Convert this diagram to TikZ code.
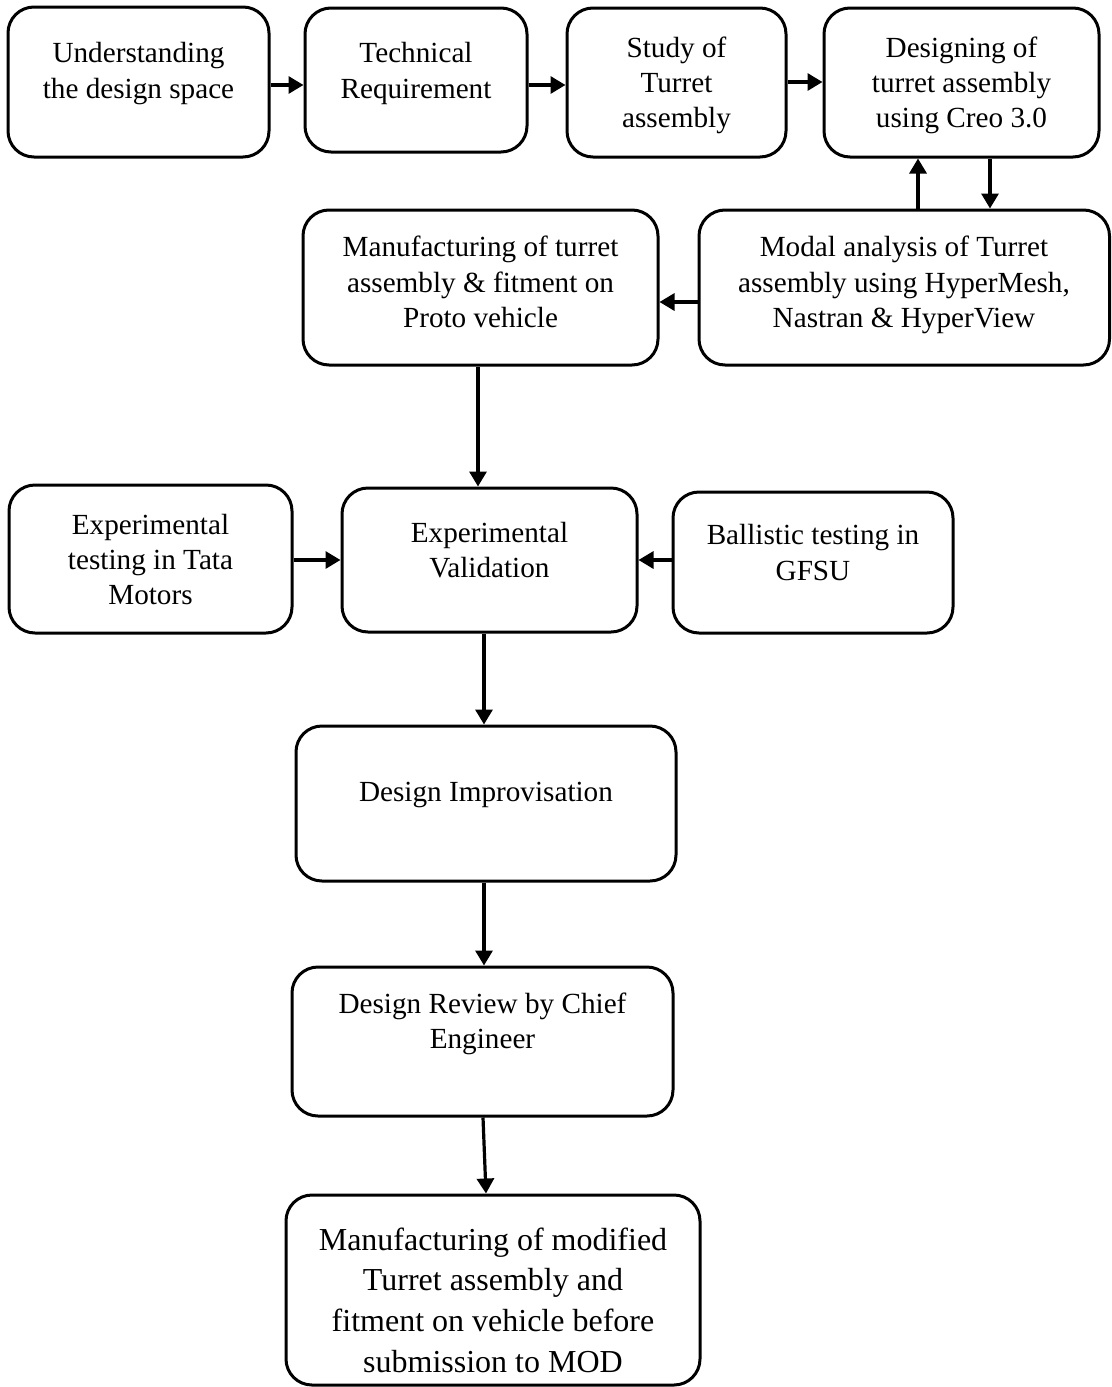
\documentclass[tikz,border=0pt]{standalone}
\usepackage{fontspec}
\setmainfont{Liberation Serif}
\usetikzlibrary{fit,arrows.meta}

\begin{document}
\begin{tikzpicture}[x=0.5pt,y=-0.5pt,
  stepbox/.style={draw=black, line width=1.5pt, rounded corners=13pt, inner sep=0pt},
  txt/.style={align=center, inner sep=0pt, font=\fontsize{14.6pt}{17.6pt}\selectfont},
  txtbig/.style={txt, font=\fontsize{16pt}{20.3pt}\selectfont},
  arr/.style={line width=1.6pt, -{Triangle[length=7.5pt,width=8.5pt]}}]
  \useasboundingbox (0,0) rectangle (1112,1387);
  % top row
  \node[stepbox, fit={(8,7) (269,157)}] (under) {};
  \node[stepbox, fit={(305,8) (527,152)}] (tech) {};
  \node[stepbox, fit={(567,8) (786,157)}] (study) {};
  \node[stepbox, fit={(824,8) (1099,157)}] (creo) {};
  \node[txt] (under-t) at (138.5,73.5) {Understanding\\the design space};
  \node[txt] (tech-t) at (416,73.5) {Technical\\Requirement};
  \node[txt] (study-t) at (676.5,85.5) {Study of\\Turret\\assembly};
  \node[txt] (creo-t) at (961.5,85.5) {Designing of\\turret assembly\\using Creo 3.0};
  % second row
  \node[stepbox, fit={(699,210) (1109.5,365)}] (modal) {};
  \node[stepbox, fit={(303,210) (658,365)}] (proto) {};
  \node[txt] (modal-t) at (904,285) {Modal analysis of Turret\\assembly using HyperMesh,\\Nastran \& HyperView};
  \node[txt] (proto-t) at (480.5,282) {Manufacturing of turret\\assembly \& fitment on\\Proto vehicle};
  % validation row
  \node[stepbox, fit={(9,485) (292,633)}] (tata) {};
  \node[stepbox, fit={(342,488) (637,632)}] (valid) {};
  \node[stepbox, fit={(673,492) (953,633)}] (gfsu) {};
  \node[txt] (tata-t) at (150.5,559.5) {Experimental\\testing in Tata\\Motors};
  \node[txt] (valid-t) at (489.5,550) {Experimental\\Validation};
  \node[txt] (gfsu-t) at (813,552.5) {Ballistic testing in\\GFSU};
  % lower column
  \node[stepbox, fit={(296,726) (676,881)}] (improv) {};
  \node[stepbox, fit={(292,967) (673,1116)}] (review) {};
  \node[stepbox, fit={(286,1195) (700,1385)}] (final) {};
  \node[txt] (improv-t) at (486,795) {Design Improvisation};
  \node[txt] (review-t) at (482.5,1024) {Design Review by Chief\\Engineer};
  \node[txtbig] (final-t) at (493,1300) {Manufacturing of modified\\Turret assembly and\\fitment on vehicle before\\submission to MOD};
  % connectors
  \draw[arr] (under.east |- 0,85) -- (tech.west |- 0,85);
  \draw[arr] (tech.east |- 0,85) -- (study.west |- 0,85);
  \draw[arr] (study.east |- 0,82) -- (creo.west |- 0,82);
  \draw[arr] (modal.north -| 918,0) -- (creo.south -| 918,0);
  \draw[arr] (creo.south -| 990,0) -- (modal.north -| 990,0);
  \draw[arr] (modal.west |- 0,302) -- (proto.east |- 0,302);
  \draw[arr] (proto.south -| 478,0) -- (valid.north -| 478,0);
  \draw[arr] (tata.east |- 0,560) -- (valid.west |- 0,560);
  \draw[arr] (gfsu.west |- 0,560) -- (valid.east |- 0,560);
  \draw[arr] (valid.south -| 484,0) -- (improv.north -| 484,0);
  \draw[arr] (improv.south -| 484,0) -- (review.north -| 484,0);
  \draw[arr] (review.south -| 483,0) -- (final.north -| 486,0);
\end{tikzpicture}
\end{document}
